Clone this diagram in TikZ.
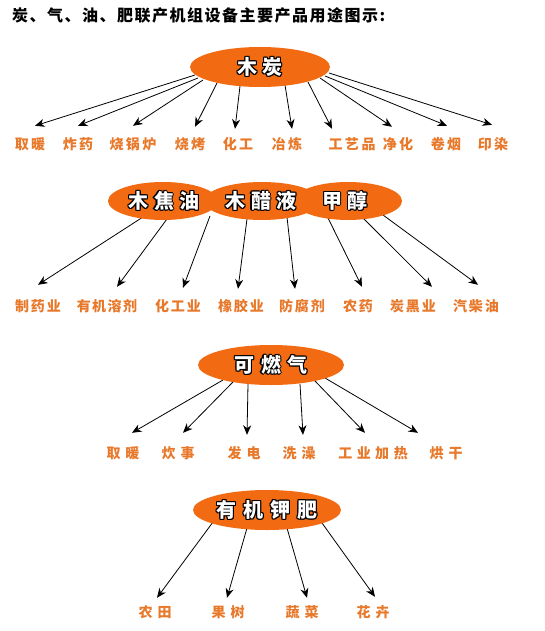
\documentclass[tikz,border=0pt]{standalone}
\usepackage{fontspec}
\setmainfont{Noto Sans CJK SC}
\usetikzlibrary{arrows.meta,shapes.geometric}
\definecolor{org}{HTML}{F26B12}
\definecolor{lblc}{HTML}{E8782A}
\ExplSyntaxOn
\NewDocumentCommand\spc{m m}{
  \bool_set_true:N \l_tmpa_bool
  \tl_map_inline:nn {#2}{
    \bool_if:NF \l_tmpa_bool {\hspace{#1}}
    \bool_set_false:N \l_tmpa_bool
    ##1
  }
}
\ExplSyntaxOff
\newcommand\oc[3]{\rlap{\hspace*{#1}\raisebox{#2}{\color{black}#3}}}
\newcommand\outl[1]{\oc{1pt}{0pt}{#1}\oc{-1pt}{0pt}{#1}\oc{0pt}{1pt}{#1}\oc{0pt}{-1pt}{#1}\oc{.7pt}{.7pt}{#1}\oc{-.7pt}{.7pt}{#1}\oc{.7pt}{-.7pt}{#1}\oc{-.7pt}{-.7pt}{#1}{\color{white}#1}}
\newcommand\arw[6]{\draw[arr] ([xshift=#2pt,yshift=#3pt]#1.center) -- ([xshift=#5pt,yshift=#6pt]#4.north);}
\pgfdeclarelayer{back}
\pgfdeclarelayer{bg}
\pgfsetlayers{back,bg,main}
\tikzset{
  blob/.style={ellipse, fill=org, inner sep=0pt, font=\fontsize{20}{24}\selectfont\bfseries},
  lbl/.style={text=lblc, inner sep=0pt, text height=12.3pt, text depth=1.7pt, font=\fontsize{14}{15}\selectfont\bfseries},
  arr/.style={-{Stealth[length=9.5pt,width=8pt,inset=3pt]}, line width=0.8pt, black},
}
\begin{document}
\begin{tikzpicture}[x=1pt,y=-1pt]
\begin{pgfonlayer}{back}
\fill[white] (0,0) rectangle (544,631);
\end{pgfonlayer}
\useasboundingbox (0,0) rectangle (544,631);
\node[anchor=west, inner sep=0pt, font=\fontsize{16}{18}\selectfont\bfseries] (title) at (12,15) {\spc{1.5pt}{炭、气、油、肥联产机组设备主要产品用途图示:}};
% row 1
\node[blob, minimum width=140, minimum height=40] (mt) at (260,67) {\outl{\spc{5pt}{木炭}}};
\node[lbl] (a1) at (30,144) {\spc{2.5pt}{取暖}};
\node[lbl] (a2) at (78,144) {\spc{2.5pt}{炸药}};
\node[lbl] (a3) at (133,144) {\spc{2.5pt}{烧锅炉}};
\node[lbl] (a4) at (190,144) {\spc{2.5pt}{烧烤}};
\node[lbl] (a5) at (238,144) {\spc{2.5pt}{化工}};
\node[lbl] (a6) at (287,144) {\spc{2.5pt}{冶炼}};
\node[lbl] (a7) at (352,144) {\spc{2.5pt}{工艺品}};
\node[lbl] (a8) at (398,144) {\spc{2.5pt}{净化}};
\node[lbl] (a9) at (446,144) {\spc{2.5pt}{卷烟}};
\node[lbl] (a10) at (493,144) {\spc{2.5pt}{印染}};
% row 2
\node[blob, minimum width=110, minimum height=38] (w1) at (163,201) {};
\node[blob, minimum width=116, minimum height=38] (w2) at (262,201) {};
\node[blob, minimum width=108, minimum height=38] (w3) at (348,201) {};
\node[font=\fontsize{20}{24}\selectfont\bfseries, inner sep=0pt] (t1) at (164,201) {\outl{\spc{5.5pt}{木焦油}}};
\node[font=\fontsize{20}{24}\selectfont\bfseries, inner sep=0pt] (t2) at (261,201) {\outl{\spc{5.5pt}{木醋液}}};
\node[font=\fontsize{20}{24}\selectfont\bfseries, inner sep=0pt] (t3) at (345,201) {\outl{\spc{5.5pt}{甲醇}}};
\node[lbl] (b1) at (38,306) {\spc{2pt}{制药业}};
\node[lbl] (b2) at (107,306) {\spc{1.5pt}{有机溶剂}};
\node[lbl] (b3) at (178,306) {\spc{2pt}{化工业}};
\node[lbl] (b4) at (241,306) {\spc{2pt}{橡胶业}};
\node[lbl] (b5) at (302,306) {\spc{2pt}{防腐剂}};
\node[lbl] (b6) at (358,306) {\spc{2pt}{农药}};
\node[lbl] (b7) at (413,306) {\spc{2pt}{炭黑业}};
\node[lbl] (b8) at (476,306) {\spc{2pt}{汽柴油}};
% row 3
\node[blob, minimum width=146, minimum height=40] (g) at (271,365) {\outl{\spc{6.5pt}{可燃气}}};
\node[lbl] (c1) at (123,453) {\spc{5pt}{取暖}};
\node[lbl] (c2) at (178,453) {\spc{5pt}{炊事}};
\node[lbl] (c3) at (244,453) {\spc{5pt}{发电}};
\node[lbl] (c4) at (299,453) {\spc{5pt}{洗澡}};
\node[lbl] (c5) at (373,453) {\spc{4.5pt}{工业加热}};
\node[lbl] (c6) at (446,453) {\spc{5pt}{烘干}};
% row 4
\node[blob, minimum width=148, minimum height=40] (f) at (267,510) {\outl{\spc{7pt}{有机钾肥}}};
\node[lbl] (d1) at (155,612) {\spc{5pt}{农田}};
\node[lbl] (d2) at (228,612) {\spc{5pt}{果树}};
\node[lbl] (d3) at (302,612) {\spc{5pt}{蔬菜}};
\node[lbl] (d4) at (373,612) {\spc{5pt}{花卉}};
\begin{pgfonlayer}{bg}
\arw{mt}{-65}{-8}{a1}{5}{11}
\arw{mt}{-62}{-11}{a2}{0}{11}
\arw{mt}{-57}{-13}{a3}{0}{11}
\arw{mt}{-43}{-16}{a4}{5}{10}
\arw{mt}{-20}{-19}{a5}{-3}{8}
\arw{mt}{25}{-18}{a6}{5}{8}
\arw{mt}{48}{-15}{a7}{-20}{8}
\arw{mt}{60}{-11}{a8}{-6}{10}
\arw{mt}{65}{-9}{a9}{1}{11}
\arw{mt}{69}{-6}{a10}{-1}{12}
\arw{w1}{-20}{-16}{b1}{0}{14}
\arw{w1}{4}{-18}{b2}{10}{12}
\arw{w2}{-52}{-15}{b3}{5}{11}
\arw{w2}{-15}{-18}{b4}{-3}{10}
\arw{w2}{25}{-16}{b5}{-7}{10}
\arw{w3}{-20}{-17}{b6}{4}{12}
\arw{w3}{15}{-17}{b7}{19}{12}
\arw{w3}{35}{-14}{b8}{2}{14}
\arw{g}{-48}{-15}{c1}{9}{13}
\arw{g}{-38}{-17}{c2}{5}{13}
\arw{g}{-23}{-19}{c3}{3}{11}
\arw{g}{29}{-19}{c4}{4}{11}
\arw{g}{44}{-16}{c5}{-8}{13}
\arw{g}{54}{-13}{c6}{-28}{13}
\arw{f}{-54}{-12}{d1}{2}{7}
\arw{f}{-20}{-18}{d2}{-1}{7}
\arw{f}{20}{-18}{d3}{5}{7}
\arw{f}{55}{-13}{d4}{2}{8}
\end{pgfonlayer}
\end{tikzpicture}
\end{document}
